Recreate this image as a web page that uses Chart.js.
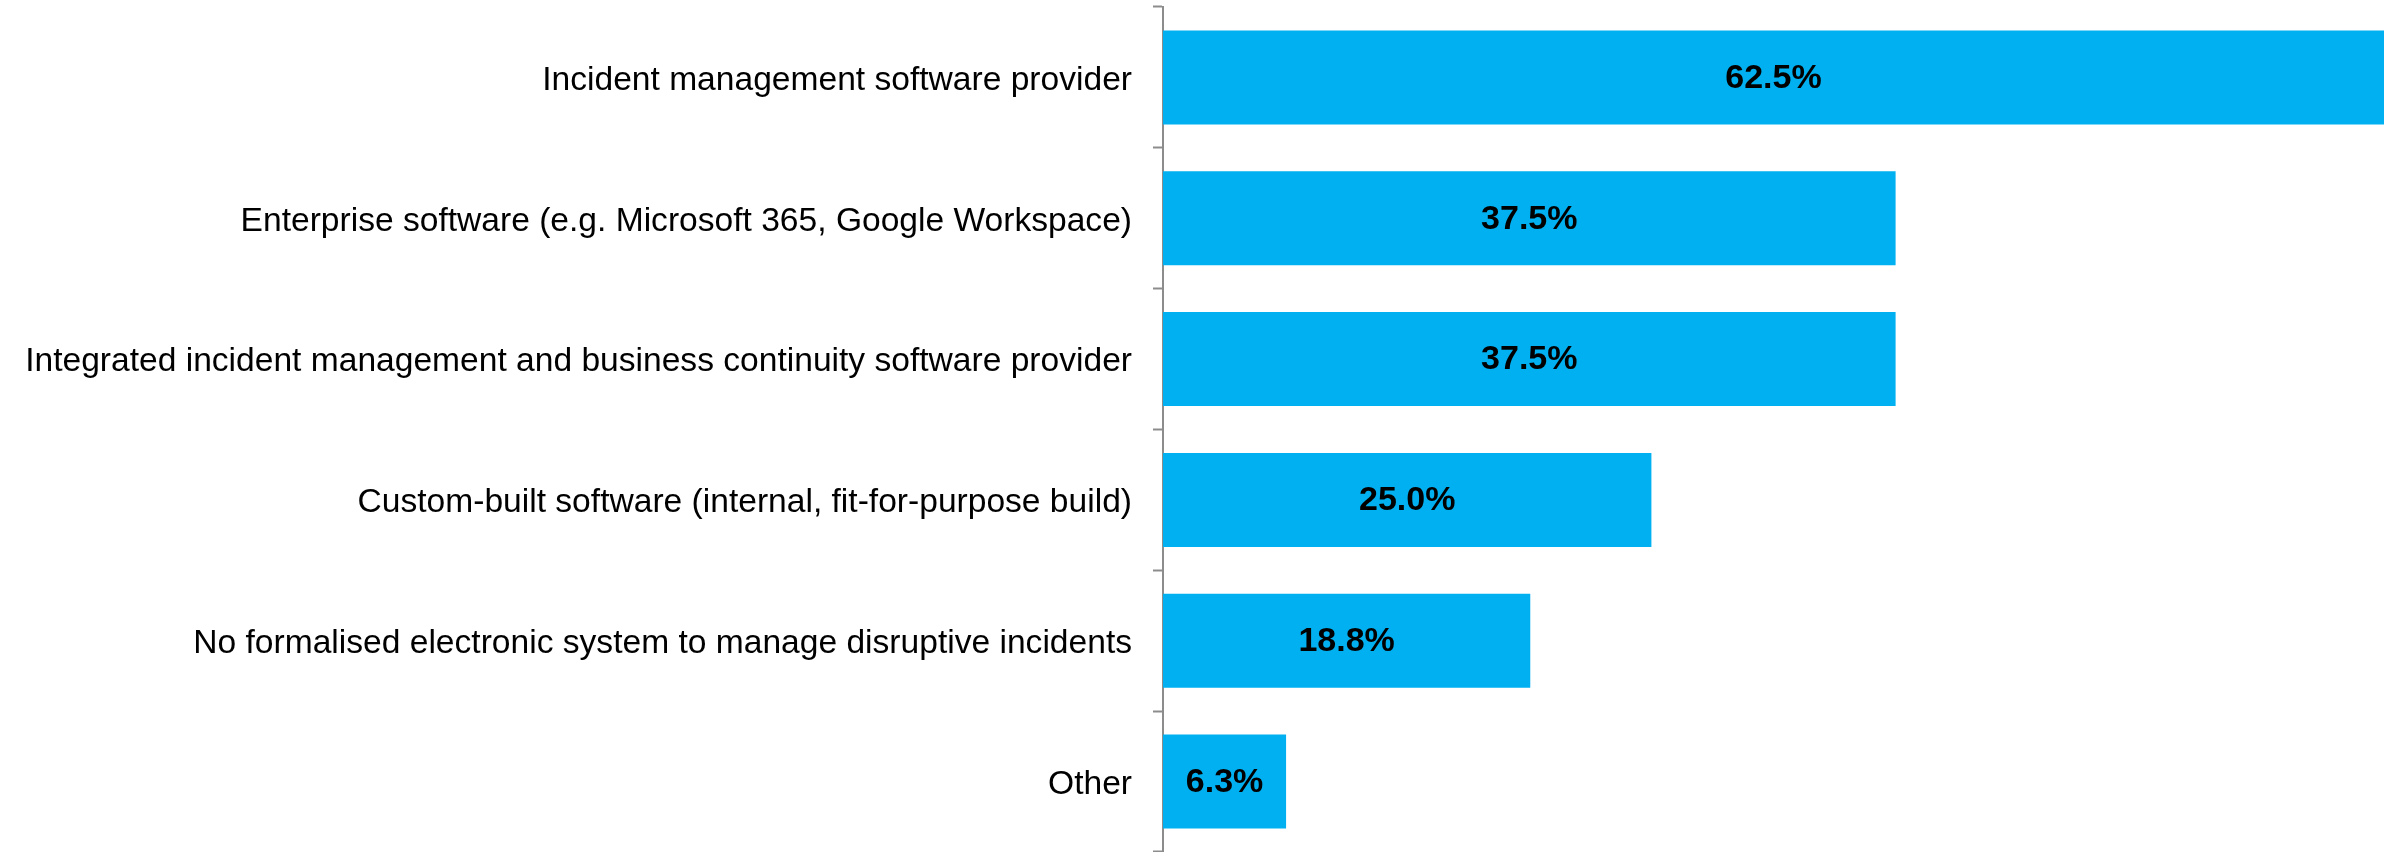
<!DOCTYPE html>
<html>
<head>
<meta charset="utf-8">
<script src="https://cdn.jsdelivr.net/npm/chart.js@4.4.1/dist/chart.umd.min.js"></script>
<style>
  html, body { margin: 0; padding: 0; background: #fff; }
  #wrap { width: 2399px; height: 852px; }
</style>
</head>
<body>
<div id="wrap"><canvas id="chart"></canvas></div>
<script>
// ── Data ─────────────────────────────────────────────────────────────────────
const categories = [
    'Incident management software provider',
    'Enterprise software (e.g. Microsoft 365, Google Workspace)',
    'Integrated incident management and business continuity software provider',
    'Custom-built software (internal, fit-for-purpose build)',
    'No formalised electronic system to manage disruptive incidents',
    'Other'
];
const shares = [62.5, 37.5, 37.5, 25.0, 18.8, 6.3];

const BAR_COLOR = '#00B0F0';
const AXIS_COLOR = '#8c8c8c';
const FONT = '"Liberation Sans", Arial, sans-serif';

// Writes the percentage in the middle of each bar
const barValueLabels = {
    id: 'barValueLabels',
    afterDatasetsDraw(chart) {
        const { ctx } = chart;
        const meta = chart.getDatasetMeta(0);
        ctx.save();
        ctx.font = 'bold 34px ' + FONT;
        ctx.fillStyle = '#000';
        ctx.textAlign = 'center';
        ctx.textBaseline = 'middle';
        meta.data.forEach((bar, i) => {
            const x = (bar.base + bar.x) / 2;
            ctx.fillText(shares[i].toFixed(1) + '%', x, bar.y + 1);
        });
        ctx.restore();
    }
};

new Chart(document.getElementById('chart'), {
    type: 'bar',
    data: {
        labels: categories,
        datasets: [{
            data: shares,
            backgroundColor: BAR_COLOR,
            borderWidth: 0,
            categoryPercentage: 0.667,
            barPercentage: 1.0
        }]
    },
    options: {
        indexAxis: 'y',
        responsive: true,
        maintainAspectRatio: false,
        animation: false,
        layout: { padding: { top: 7, right: 15, bottom: -3, left: 0 } },
        plugins: {
            legend: { display: false },
            tooltip: { enabled: false }
        },
        scales: {
            x: {
                display: false,
                min: 0,
                max: 62.5
            },
            y: {
                // fixed axis position, no extra room above/below for label heights
                afterFit: (scale) => {
                    scale.width = 1163;
                    scale.paddingTop = 0;
                    scale.paddingBottom = 0;
                },
                grid: {
                    offset: true,
                    drawOnChartArea: false,
                    drawTicks: true,
                    tickLength: 10,
                    tickWidth: 2,
                    tickColor: AXIS_COLOR
                },
                border: { display: true, color: AXIS_COLOR, width: 2 },
                ticks: {
                    color: '#000',
                    padding: 21,
                    labelOffset: 3,
                    font: { family: FONT, size: 33.6 }
                }
            }
        }
    },
    plugins: [barValueLabels]
});
</script>
</body>
</html>
